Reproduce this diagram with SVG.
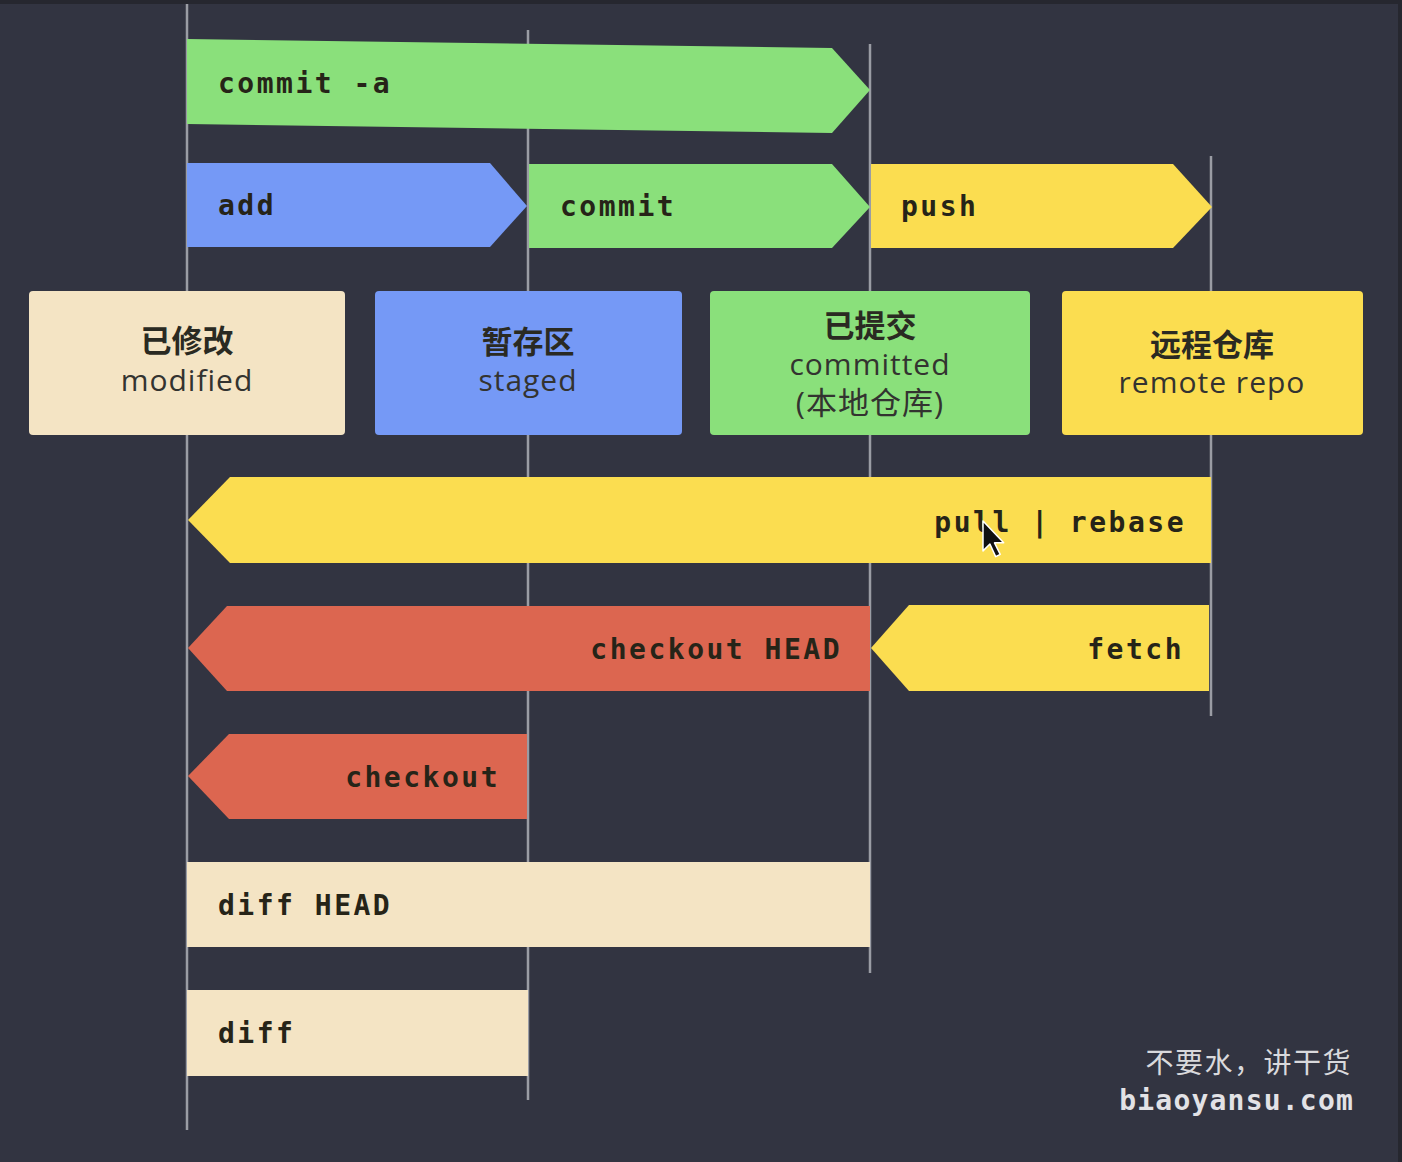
<svg xmlns="http://www.w3.org/2000/svg" width="1402" height="1162" viewBox="0 0 1402 1162">
<style>
.cmd{font-family:"DejaVu Sans Mono","Liberation Mono",monospace;font-weight:bold;font-size:28px;letter-spacing:2.5px;fill:#262418}
.ttl{font-family:"Noto Sans CJK SC","Noto Sans",sans-serif;font-weight:bold;font-size:31px;fill:#2a2a22;text-anchor:middle}
.sub{font-family:"Open Sans","Noto Sans",sans-serif;font-size:30px;letter-spacing:1px;fill:#333330;text-anchor:middle}
.cjk{font-family:"Open Sans","Noto Sans CJK SC",sans-serif;font-size:31px;letter-spacing:1px;fill:#333330;text-anchor:middle}
.vl{stroke:#9a9ca4;stroke-width:2.5;fill:none}
.g{fill:#8ae07b}.b{fill:#7599f6}.y{fill:#fbdd50}.r{fill:#dc6650}.c{fill:#f4e4c4}
.end{text-anchor:end}
</style>
<rect x="0" y="0" width="1402" height="1162" fill="#323441"/>
<rect x="0" y="0" width="1402" height="4" fill="#26272f"/>
<rect x="1398" y="0" width="4" height="1162" fill="#26272f"/>
<g id="connectors">
<line class="vl" x1="187" y1="4" x2="187" y2="1130"/>
<line class="vl" x1="528" y1="30" x2="528" y2="1100"/>
<line class="vl" x1="870" y1="44" x2="870" y2="973"/>
<line class="vl" x1="1211" y1="156" x2="1211" y2="716"/>
</g>
<g id="commit-a">
<polygon class="g" points="187,39 832,48 870,90 832,133 187,124"/>
<text class="cmd" x="218" y="93">commit -a</text>
</g>
<g id="add">
<polygon class="b" points="187,163 490,163 527,206 490,247 187,247"/>
<text class="cmd" x="218" y="215">add</text>
</g>
<g id="commit">
<polygon class="g" points="529,164 832,164 870,207 832,248 529,248"/>
<text class="cmd" x="560" y="216">commit</text>
</g>
<g id="push">
<polygon class="y" points="871,164 1173,164 1212,207 1173,248 871,248"/>
<text class="cmd" x="901" y="216">push</text>
</g>
<g id="modified">
<rect class="c" x="29" y="291" width="316" height="144" rx="4"/>
<text class="ttl" x="187" y="352">已修改</text>
<text class="sub" x="187" y="391">modified</text>
</g>
<g id="staged">
<rect class="b" x="375" y="291" width="307" height="144" rx="4"/>
<text class="ttl" x="528" y="353">暂存区</text>
<text class="sub" x="528" y="391">staged</text>
</g>
<g id="committed">
<rect class="g" x="710" y="291" width="320" height="144" rx="4"/>
<text class="ttl" x="870" y="337">已提交</text>
<text class="sub" x="870" y="375">committed</text>
<text class="cjk" x="870" y="414">(本地仓库)</text>
</g>
<g id="remote">
<rect class="y" x="1062" y="291" width="301" height="144" rx="4"/>
<text class="ttl" x="1212" y="356">远程仓库</text>
<text class="sub" x="1212" y="393">remote repo</text>
</g>
<g id="pull-rebase">
<polygon class="y" points="1211,477 230,477 188,520 230,563 1211,563"/>
<text class="cmd end" x="1186" y="532">pull | rebase</text>
</g>
<g id="checkout-head">
<polygon class="r" points="870,606 227,606 188,648 227,691 870,691"/>
<text class="cmd end" x="842" y="659">checkout HEAD</text>
</g>
<g id="fetch">
<polygon class="y" points="1209,605 909,605 871,648 909,691 1209,691"/>
<text class="cmd end" x="1184" y="659">fetch</text>
</g>
<g id="checkout">
<polygon class="r" points="527,734 229,734 188,776 229,819 527,819"/>
<text class="cmd end" x="500" y="787">checkout</text>
</g>
<g id="diff-head">
<rect class="c" x="187" y="862" width="683" height="85"/>
<text class="cmd" x="218" y="915">diff HEAD</text>
</g>
<g id="diff">
<rect class="c" x="187" y="990" width="341" height="86"/>
<text class="cmd" x="218" y="1043">diff</text>
</g>
<g id="cursor">
<polygon points="0,0 0,26 6,20 11,31 15,29 10,19 18,19" transform="translate(983,521) scale(1.15)" fill="#111" stroke="#fff" stroke-width="1.3" stroke-linejoin="round"/>
</g>
<g id="watermark">
<text x="1352" y="1073" text-anchor="end" font-family="Noto Sans CJK SC,sans-serif" font-size="28" letter-spacing="1.5" fill="#d9d9dc">不要水，讲干货</text>
<text x="1354" y="1110" text-anchor="end" font-family="DejaVu Sans Mono,monospace" font-weight="bold" font-size="28" letter-spacing="1.2" fill="#e2e2e6">biaoyansu.com</text>
</g>
</svg>
